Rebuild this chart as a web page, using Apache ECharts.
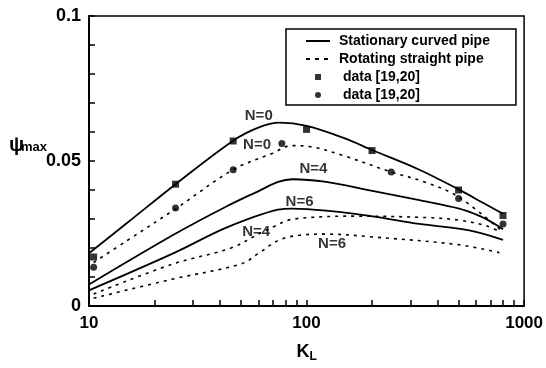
<!DOCTYPE html>
<html>
<head>
<meta charset="utf-8">
<script src="https://cdn.jsdelivr.net/npm/echarts@6/dist/echarts.min.js"></script>
<style>
html, body { margin: 0; padding: 0; background: #fff; }
#main { width: 546px; height: 368px; }
</style>
</head>
<body>
<div id="main"></div>
<script>
// 静止弯管 (solid)
var kSolidN0 = [10, 15, 25, 46, 60, 75, 100, 150, 200, 330, 500, 650, 800];
var psiSolidN0 = [0.0182, 0.0287, 0.0420, 0.0570, 0.0615, 0.0632, 0.0621, 0.0578, 0.0538, 0.0470, 0.0402, 0.0355, 0.0318];
var kSolidN4 = [10, 24.8, 42.8, 60.8, 74, 86, 123, 198, 330, 503, 600, 680, 800];
var psiSolidN4 = [0.0074, 0.0248, 0.0343, 0.0398, 0.0428, 0.0437, 0.0428, 0.0398, 0.0365, 0.0336, 0.0316, 0.0297, 0.0265];
var kSolidN6 = [10, 24.8, 42.8, 73.8, 86, 123, 198, 330, 560, 800];
var psiSolidN6 = [0.0054, 0.0184, 0.0270, 0.0332, 0.0336, 0.0329, 0.0310, 0.0283, 0.0261, 0.0228];
// 旋转直管 (dashed)
var kDashN0 = [10.5, 15, 25, 46, 70, 85, 103, 147, 245, 354, 500, 780];
var psiDashN0 = [0.0150, 0.0226, 0.0335, 0.0470, 0.0527, 0.0553, 0.0550, 0.0519, 0.0462, 0.0426, 0.0376, 0.0262];
var kDashN4 = [10.5, 24.3, 45, 60.8, 70, 86, 175, 354, 503, 667, 770];
var psiDashN4 = [0.0041, 0.0145, 0.0200, 0.0250, 0.0272, 0.0299, 0.0310, 0.0305, 0.0296, 0.0277, 0.0257];
var kDashN6 = [10.5, 24.3, 50, 60.8, 75, 93, 123, 195, 503, 770];
var psiDashN6 = [0.0027, 0.0093, 0.0145, 0.0184, 0.0228, 0.0244, 0.0248, 0.0239, 0.0211, 0.0184];
// 实验数据
var kSquare = [10.5, 25, 46, 100, 200, 500, 800];
var psiSquare = [0.0169, 0.0420, 0.0569, 0.0609, 0.0536, 0.0400, 0.0312];
var kCircle = [10.5, 25, 46, 77, 245, 500, 800];
var psiCircle = [0.0134, 0.0338, 0.0470, 0.0560, 0.0462, 0.0371, 0.0283];
// 曲线标注
var curveLabels = ['N=0', 'N=0', 'N=4', 'N=6', 'N=4', 'N=6'];
var labelK = [60.3, 59.2, 107.6, 92.9, 58.7, 131];
var labelPsi = [0.0657, 0.0555, 0.0472, 0.0360, 0.0255, 0.0215];
// 坐标轴刻度
var xTickValues = [10, 20, 30, 40, 50, 60, 70, 80, 90, 100, 200, 300, 400, 500, 600, 700, 800, 900, 1000];
var legendNames = {
    s: 'Stationary curved pipe',
    d: 'Rotating straight pipe',
    sq: ' data [19,20]',
    ci: ' data [19,20]'
};

function pairs(k, v) {
    return k.map(function(x, i) { return [x, v[i]]; });
}

var font = "'Liberation Sans', Arial, sans-serif";
var solidStyle = { color: '#000', width: 1.8 };
var dashStyle = { color: '#000', width: 1.6, type: [3, 5] };

var myChart = echarts.init(document.getElementById('main'));
var option = {
    animation: false,
    backgroundColor: '#fff',
    grid: {
        left: 89, right: 21, top: 16, bottom: 49,
        show: true, borderColor: '#000', borderWidth: 1.5
    },
    legend: {
        orient: 'vertical',
        left: 286, top: 29,
        data: [
            { name: 's', itemStyle: { opacity: 0 } },
            { name: 'd', itemStyle: { opacity: 0 }, lineStyle: { type: [4, 5], width: 1.8 } },
            { name: 'sq', icon: 'path://M0 0h10v10H0z' },
            { name: 'ci' }
        ],
        formatter: function(name) { return legendNames[name]; },
        borderColor: '#000', borderWidth: 1.5,
        padding: [3, 26, 1, 19],
        itemGap: 0,
        itemWidth: 24,
        itemHeight: 6,
        symbolKeepAspect: true,
        selectedMode: false,
        textStyle: {
            color: '#000', fontSize: 14, fontWeight: 'bold', fontFamily: font,
            lineHeight: 18, padding: [0, 0, 0, 4]
        }
    },
    xAxis: {
        type: 'log', logBase: 10, min: 10, max: 1000,
        axisLine: { onZero: false, lineStyle: { color: '#000', width: 2 } },
        axisTick: { show: true, inside: true, length: 6, customValues: xTickValues, lineStyle: { color: '#000', width: 1.5 } },
        axisLabel: {
            color: '#000', fontSize: 17, fontWeight: 'bold', fontFamily: font, margin: 9,
            formatter: function(v) { return String(Math.round(v)); }
        },
        splitLine: { show: false },
        name: '{k|K}{l|L}',
        nameLocation: 'middle',
        nameGap: 35,
        nameTextStyle: {
            rich: {
                k: { fontSize: 18, fontWeight: 'bold', fontFamily: font, color: '#000' },
                l: { fontSize: 12, fontWeight: 'bold', fontFamily: font, color: '#000', padding: [10, 0, 0, 0] }
            }
        }
    },
    yAxis: {
        type: 'value', min: 0, max: 0.1, interval: 0.01,
        axisLine: { onZero: false, lineStyle: { color: '#000', width: 2 } },
        axisTick: { show: true, inside: true, length: 6, lineStyle: { color: '#000', width: 1.5 } },
        axisLabel: {
            color: '#000', fontSize: 18, fontWeight: 'bold', fontFamily: font, margin: 8,
            formatter: function(v) {
                var r = Math.round(v * 100);
                return r % 5 === 0 ? String(r / 100) : '';
            }
        },
        splitLine: { show: false }
    },
    graphic: [
        { type: 'text', left: 9, top: 135, style: { text: 'ψ', fontSize: 20, fontWeight: 'bold', fontFamily: font, fill: '#000' } },
        { type: 'text', left: 21, top: 141, style: { text: 'max', fontSize: 13, fontWeight: 'bold', fontFamily: font, fill: '#000' } }
    ],
    series: [
        { name: 's', type: 'line', data: pairs(kSolidN0, psiSolidN0), symbol: 'none', smooth: 0.35, lineStyle: solidStyle, itemStyle: { color: '#000' } },
        { name: 'sN4', type: 'line', data: pairs(kSolidN4, psiSolidN4), symbol: 'none', smooth: 0.35, lineStyle: solidStyle, itemStyle: { color: '#000' } },
        { name: 'sN6', type: 'line', data: pairs(kSolidN6, psiSolidN6), symbol: 'none', smooth: 0.35, lineStyle: solidStyle, itemStyle: { color: '#000' } },
        { name: 'd', type: 'line', data: pairs(kDashN0, psiDashN0), symbol: 'none', smooth: 0.35, lineStyle: dashStyle, itemStyle: { color: '#000' } },
        { name: 'dN4', type: 'line', data: pairs(kDashN4, psiDashN4), symbol: 'none', smooth: 0.35, lineStyle: dashStyle, itemStyle: { color: '#000' } },
        { name: 'dN6', type: 'line', data: pairs(kDashN6, psiDashN6), symbol: 'none', smooth: 0.35, lineStyle: dashStyle, itemStyle: { color: '#000' } },
        { name: 'sq', type: 'scatter', symbol: 'rect', symbolSize: 7, data: pairs(kSquare, psiSquare), itemStyle: { color: '#000' } },
        { name: 'ci', type: 'scatter', symbol: 'circle', symbolSize: 7, data: pairs(kCircle, psiCircle), itemStyle: { color: '#000' } },
        {
            name: 'labels', type: 'scatter', symbolSize: 0, silent: true,
            data: labelK.map(function(k, i) { return { value: [k, labelPsi[i]], name: curveLabels[i] }; }),
            label: {
                show: true, position: 'inside', formatter: '{b}',
                color: '#000', fontSize: 15, fontWeight: 'bold', fontFamily: font
            }
        }
    ]
};
myChart.setOption(option);
</script>
</body>
</html>
